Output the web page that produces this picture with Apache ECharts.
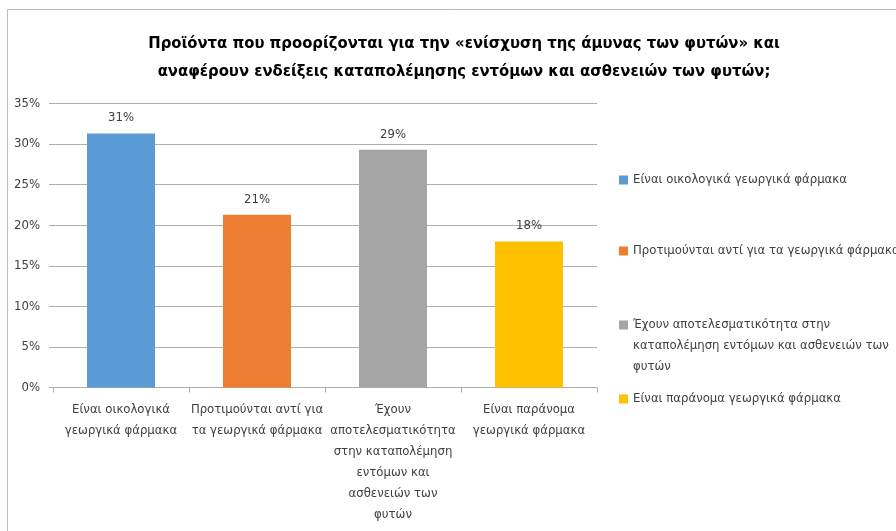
<!DOCTYPE html>
<html>
<head>
<meta charset="utf-8">
<script src="https://cdn.jsdelivr.net/npm/echarts@6/dist/echarts.min.js"></script>
<style>
  html, body { margin: 0; padding: 0; background: #fff; }
  #chart { width: 896px; height: 531px; }
</style>
</head>
<body>
<div id="chart"></div>
<script>
// Survey answers (share of respondents, %)
const categories = [
  'Είναι οικολογικά γεωργικά φάρμακα',
  'Προτιμούνται αντί για τα γεωργικά φάρμακα',
  'Έχουν αποτελεσματικότητα στην καταπολέμηση εντόμων και ασθενειών των φυτών',
  'Είναι παράνομα γεωργικά φάρμακα'
];
const values = [31.3, 21.3, 29.3, 18.0];
const colors = ['#5B9BD5', '#ED7D31', '#A5A5A5', '#FFC000'];
const yTicks = [0, 5, 10, 15, 20, 25, 30, 35];
const titleLines = [
  'Προϊόντα που προορίζονται για την «ενίσχυση της άμυνας των φυτών» και',
  'αναφέρουν ενδείξεις καταπολέμησης εντόμων και ασθενειών των φυτών;'
];

const FONT = '"DejaVu Sans Condensed", "Roboto", sans-serif';
const LABEL_SIZE = 13;
// wrap widths for the category labels under each bar
const categoryWrapWidths = [140, 140, 127, 140];

// word wrap by measured width (long single words are kept whole)
const measureCtx = document.createElement('canvas').getContext('2d');
function wrap(text, maxWidth, size) {
  measureCtx.font = size + 'px ' + FONT;
  const words = text.split(' ');
  const lines = [];
  let line = '';
  words.forEach(w => {
    const test = line ? line + ' ' + w : w;
    if (line && measureCtx.measureText(test).width > maxWidth) {
      lines.push(line);
      line = w;
    } else {
      line = test;
    }
  });
  if (line) lines.push(line);
  return lines.join('\n');
}

// one series per answer so each gets its own legend entry; stacking keeps the bars centred
const series = categories.map((name, i) => ({
  name: name,
  type: 'bar',
  stack: 'answers',
  barWidth: '50%',
  itemStyle: { color: colors[i] },
  data: categories.map((_, j) => (j === i ? values[i] : '-')),
  label: {
    show: true,
    position: 'top',
    distance: 9,
    color: '#404040',
    fontFamily: FONT,
    fontSize: LABEL_SIZE,
    formatter: p => Math.round(p.value) + '%'
  }
}));

// legend entries placed one by one down the right side
const legendTops = [164.5, 235.5, 309.5, 383.5];
const legendWrap = [0, 0, 258, 0];
const legends = categories.map((name, i) => ({
  data: [name],
  left: 614,
  top: legendTops[i],
  orient: 'vertical',
  itemWidth: 9,
  itemHeight: legendWrap[i] ? 51 : 9,
  // for the wrapped entry the square sits beside the first line
  icon: legendWrap[i] ? 'path://M0,0H9V9H0Z M0,51L0,51' : 'rect',
  selectedMode: false,
  formatter: n => (legendWrap[i] ? wrap(n, legendWrap[i], LABEL_SIZE) : n),
  textStyle: {
    color: '#404040',
    fontFamily: FONT,
    fontSize: LABEL_SIZE,
    lineHeight: 21
  }
}));

const chart = echarts.init(document.getElementById('chart'), null, { renderer: 'canvas' });
chart.setOption({
  backgroundColor: '#fff',
  animation: false,
  graphic: [{
    type: 'rect',
    shape: { x: 7.5, y: 9.5, width: 1200, height: 1200 },
    style: { fill: 'none', stroke: '#bcbcbc', lineWidth: 1 },
    silent: true
  }],
  title: {
    text: titleLines.join('\n'),
    left: 459,
    top: 25,
    textAlign: 'center',
    textStyle: {
      fontFamily: FONT,
      fontWeight: 'bold',
      fontSize: 16.5,
      lineHeight: 28,
      color: '#000'
    }
  },
  legend: legends,
  grid: {
    left: 53, top: 103.5, width: 544, height: 284,
    containLabel: false,
    outerBoundsMode: 'none'
  },
  xAxis: {
    type: 'category',
    data: categories,
    axisLine: { lineStyle: { color: '#ADADAD' } },
    axisTick: { show: true, length: 5, lineStyle: { color: '#ADADAD' } },
    axisLabel: {
      interval: 0,
      margin: 12,
      color: '#404040',
      fontFamily: FONT,
      fontSize: LABEL_SIZE,
      lineHeight: 21,
      formatter: (v, idx) => wrap(v, categoryWrapWidths[idx], LABEL_SIZE)
    }
  },
  yAxis: {
    type: 'value',
    min: yTicks[0],
    max: yTicks[yTicks.length - 1],
    interval: yTicks[1] - yTicks[0],
    axisLine: { show: false },
    axisTick: { show: true, inside: false, length: 4, lineStyle: { color: '#ADADAD' } },
    splitLine: { lineStyle: { color: '#ADADAD' } },
    axisLabel: {
      margin: 13,
      color: '#404040',
      fontFamily: FONT,
      fontSize: LABEL_SIZE,
      formatter: v => v + '%'
    }
  },
  series: series
});
</script>
</body>
</html>
